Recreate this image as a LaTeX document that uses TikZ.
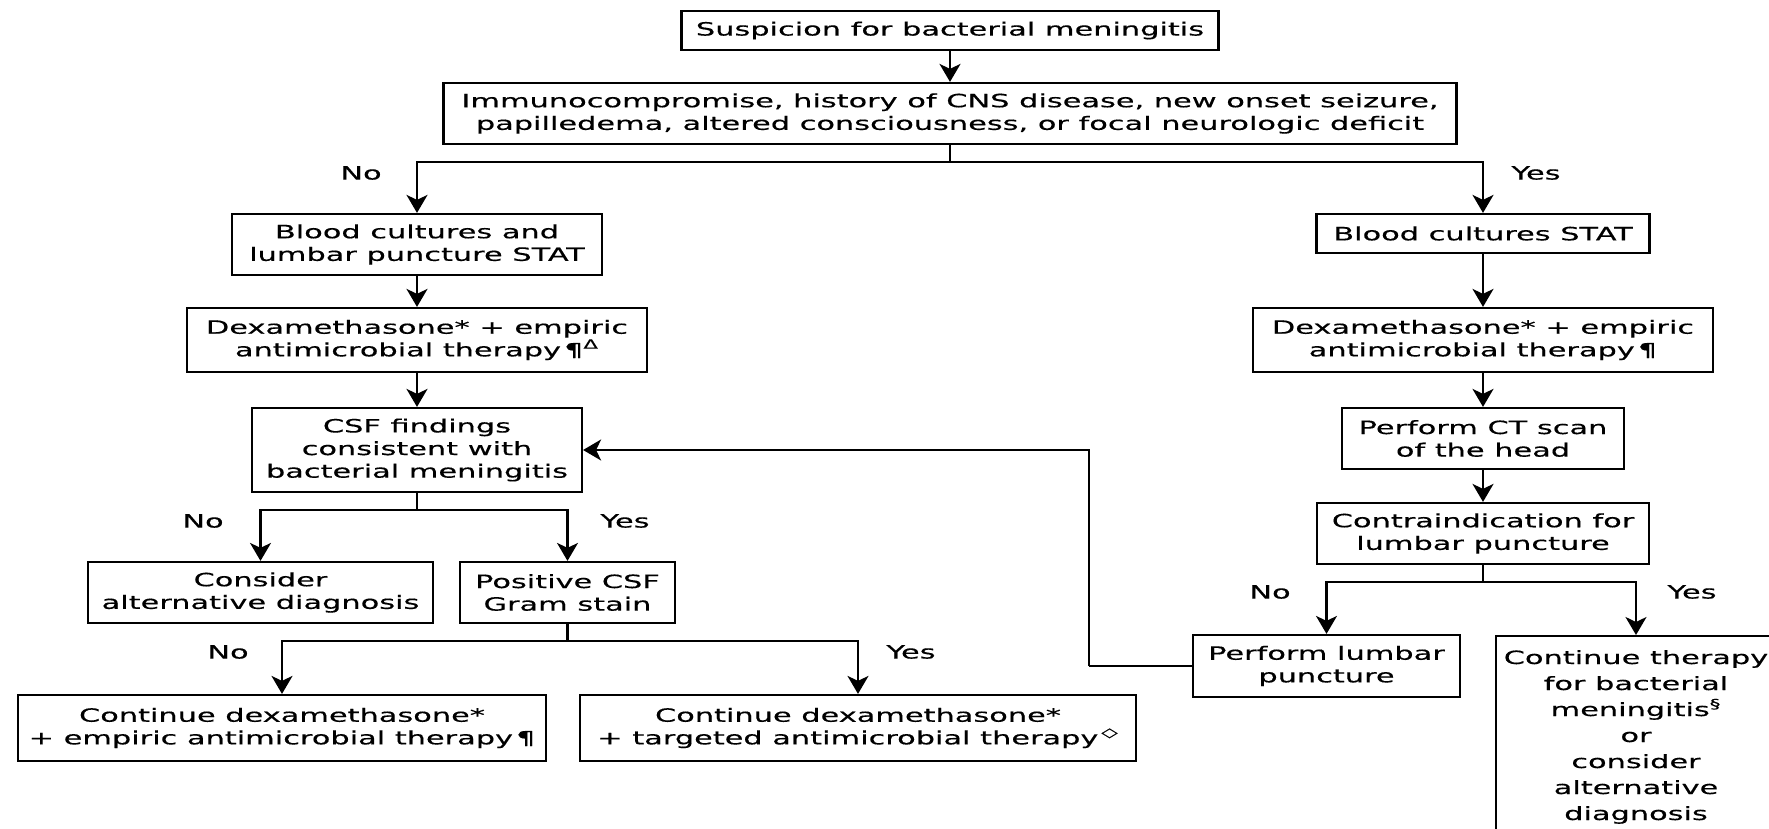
\documentclass[tikz,border=0pt]{standalone}
\usepackage{fontspec}
\setmainfont{DejaVu Sans}[FakeStretch=1.66,FakeBold=0.4]
\usetikzlibrary{arrows.meta,positioning}
\tikzset{
  box/.style={draw, line width=1.1pt, inner sep=0pt, align=center,
    font=\fontsize{9.15}{11.3}\selectfont},
  sized/.style 2 args={minimum width=#1*0.5pt, minimum height=#2*0.5pt},
  link/.style={line width=1.1pt},
  arr/.style={line width=1.1pt, -{Stealth[width=10.5pt,length=9pt,inset=2.5pt]}},
  lbl/.style={font=\fontsize{9.15}{11.3}\selectfont}
}

\begin{document}
\begin{tikzpicture}[x=0.5pt,y=-0.5pt]
  \useasboundingbox (0,0) rectangle (1769,829);

  % top of the chart
  \node[box, sized={537}{39}] (susp) at (950,30.5) {Suspicion for bacterial meningitis};
  \node[box, sized={1013}{61}] (risk) at (950,113.5)
    {Immunocompromise, history of CNS disease, new onset seizure,\\
     papilledema, altered consciousness, or focal neurologic deficit};

  % left column: no risk factors
  \node[box, sized={370}{61}] (bcLP) at (417,244.5) {Blood cultures and\\lumbar puncture STAT};
  \node[box, sized={460}{64}] (dexL) at (417,340)
    {Dexamethasone* + empiric\\antimicrobial therapy\,¶\textsuperscript{Δ}};
  \node[box, sized={330}{84}] (csf) at (417,450) {CSF findings\\consistent with\\bacterial meningitis};
  \node[box, sized={345}{61}] (altdx) at (260.5,592.5) {Consider\\alternative diagnosis};
  \node[box, sized={215}{61}] (gram) at (567.5,592.5) {Positive CSF\\Gram stain};
  \node[box, sized={528}{66}] (contE) at (282,728)
    {Continue dexamethasone*\\+ empiric antimicrobial therapy\,¶};
  \node[box, sized={556}{66}] (contT) at (858,728)
    {Continue dexamethasone*\\+ targeted antimicrobial therapy\,\textsuperscript{◇}};

  % right column: risk factors present
  \node[box, sized={333}{39}] (bcR) at (1483,233.5) {Blood cultures STAT};
  \node[box, sized={460}{64}] (dexR) at (1483,340)
    {Dexamethasone* + empiric\\antimicrobial therapy\,¶};
  \node[box, sized={282}{61}] (ct) at (1483,438.5) {Perform CT scan\\of the head};
  \node[box, sized={332}{61}] (contra) at (1483,533.5) {Contraindication for\\lumbar puncture};
  \node[box, sized={267}{62}] (lp) at (1326.5,666) {Perform lumbar\\puncture};
  \node[box, anchor=north, minimum width=140pt, inner ysep=7pt,
    font=\fontsize{9.15}{13}\selectfont] (contB) at (1636,635)
    {Continue therapy\\for bacterial\\meningitis\textsuperscript{§}\\or\\consider\\alternative\\diagnosis};

  % straight arrows
  \draw[arr] (susp) -- (risk);
  \draw[arr] (bcLP) -- (dexL);
  \draw[arr] (dexL) -- (csf);
  \draw[arr] (bcR) -- (dexR);
  \draw[arr] (dexR) -- (ct);
  \draw[arr] (ct) -- (contra);

  % forks
  \coordinate (riskfork) at (950,162);
  \draw[link] (risk) -- (riskfork);
  \draw[arr] (riskfork) -| (bcLP);
  \draw[arr] (riskfork) -| (bcR);

  \coordinate (csffork) at (417,510);
  \draw[link] (csf) -- (csffork);
  \draw[arr] (csffork) -| (altdx);
  \draw[arr] (csffork) -| (gram);

  \coordinate (gramfork) at (567.5,641);
  \draw[link] (gram) -- (gramfork);
  \draw[arr] (gramfork) -| (contE);
  \draw[arr] (gramfork) -| (contT);

  \coordinate (contrafork) at (1483,582);
  \draw[link] (contra) -- (contrafork);
  \draw[arr] (contrafork) -| (lp);
  \draw[arr] (contrafork) -| (contB);

  % lumbar puncture result goes back to the CSF box
  \coordinate (loop) at (1089,666);
  \draw[link] (lp) -- (loop);
  \draw[arr] (loop) |- (csf);

  % branch labels
  \node[lbl] (noA) at (361,173) {No};
  \node[lbl] (yesA) at (1536,173) {Yes};
  \node[lbl] (noB) at (203,521) {No};
  \node[lbl] (yesB) at (625,521) {Yes};
  \node[lbl] (noC) at (228,652) {No};
  \node[lbl] (yesC) at (911,652) {Yes};
  \node[lbl] (noD) at (1270,592) {No};
  \node[lbl] (yesD) at (1692,592) {Yes};
\end{tikzpicture}
\end{document}
